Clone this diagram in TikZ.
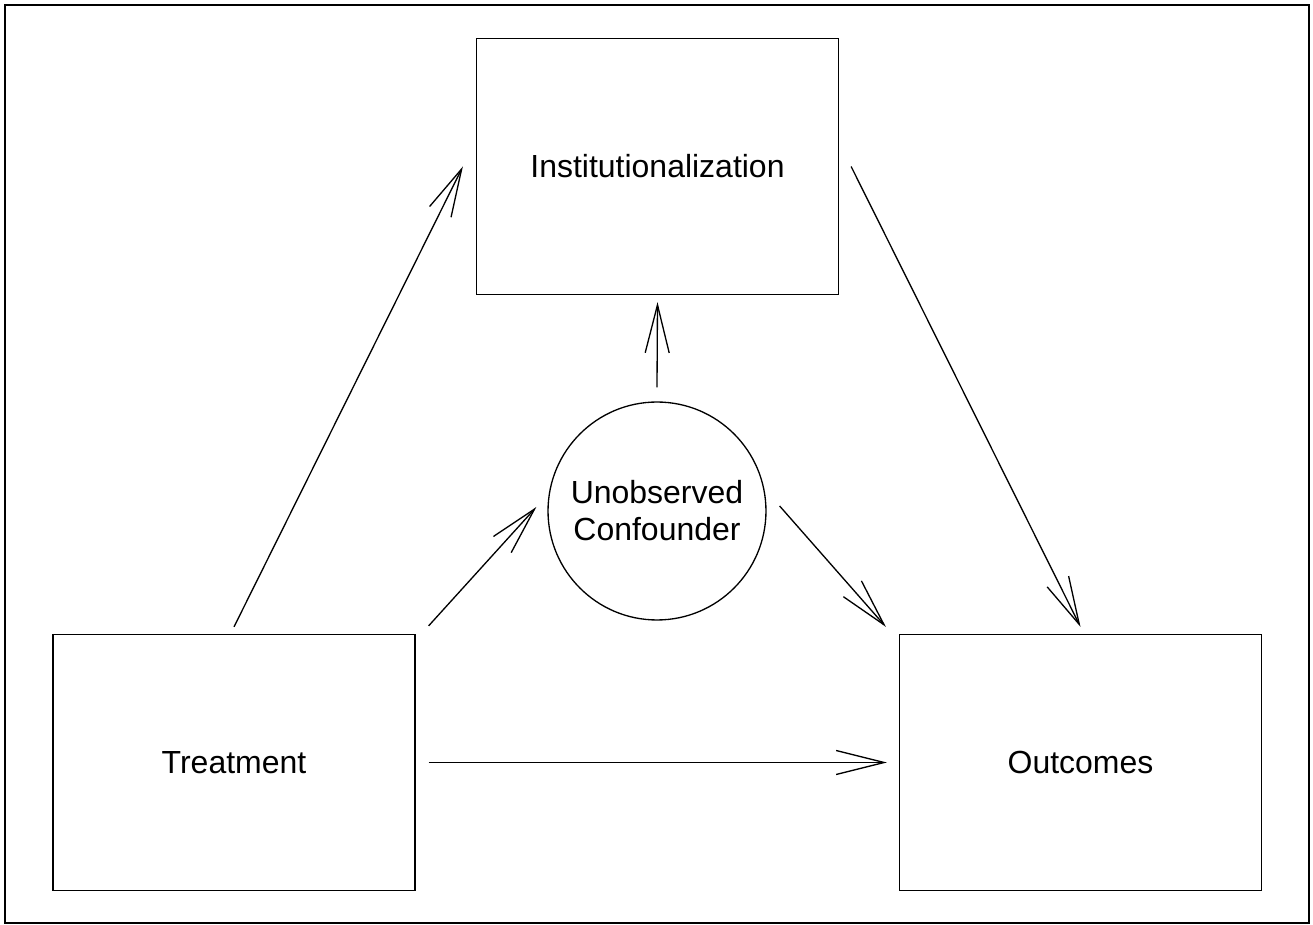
\documentclass[tikz,border=0pt]{standalone}
\usepackage{fontspec}
\setmainfont{Liberation Sans}
\usetikzlibrary{arrows.meta}

\begin{document}
\begin{tikzpicture}[x=0.02cm, y=-0.02cm, line width=0.75pt,
  every node/.style={font=\fontsize{18.2}{21}\selectfont},
  box/.style={draw, minimum width=7.24cm, minimum height=5.12cm,
              inner sep=0pt, align=center},
  blob/.style={draw, circle, minimum size=4.36cm, inner sep=0pt, align=center},
  link/.style={->, >={Straight Barb[length=9.6mm, width=4.8mm]}}]
  % Frame round the picture
  \useasboundingbox (0,0) rectangle (1313,925);
  \draw[line width=0.9pt] (5,5) rectangle (1309,923);
  % Box 1: Institutionalization
  \node[box] (inst) at (657.5,166.5) {Institutionalization};
  % Box 2: Treatment
  \node[box] (treat) at (234,762.5) {Treatment};
  % Box 3: Outcomes
  \node[box] (outc) at (1080.5,762.5) {Outcomes};
  % Circle: confounder
  \node[blob] (conf) at (657,511) {Unobserved\\Confounder};

  % Arrows from treatment
  \draw[link] ([yshift=0.14cm]treat.north) -- ([xshift=-0.26cm]inst.west);
  \draw[link] ([xshift=0.26cm, yshift=0.16cm]treat.north east)
    -- ([xshift=-0.22cm, yshift=0.08cm]conf.west);
  \draw[link] ([xshift=0.26cm]treat.east) -- ([xshift=-0.24cm]outc.west);

  % Arrows from confounder and institutionalization
  \draw[link] ([yshift=0.28cm]conf.north) -- ([yshift=-0.14cm]inst.south);
  \draw[link] ([xshift=0.26cm, yshift=0.1cm]conf.east)
    -- ([xshift=-0.26cm, yshift=0.14cm]outc.north west);
  \draw[link] ([xshift=0.24cm]inst.east) -- ([yshift=0.14cm]outc.north);
\end{tikzpicture}
\end{document}
